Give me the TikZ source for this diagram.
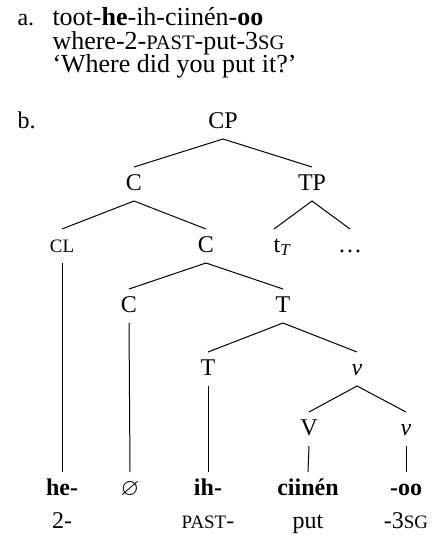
\documentclass[tikz,border=0pt]{standalone}
\usepackage{amssymb}
\usepackage{fontspec}
\setmainfont{Liberation Serif}
\makeatletter
\newcommand{\glsc}[1]{{\fontsize{\dimexpr 79\dimexpr\f@size pt\relax/100\relax}{0pt}\selectfont #1}}
\makeatother

\begin{document}
\begin{tikzpicture}[x=1pt, y=-1pt, line width=1pt,
  every node/.style={font=\fontsize{24pt}{24pt}\selectfont},
  exline/.style={anchor=base west, inner sep=0pt, font=\fontsize{26pt}{26pt}\selectfont},
  cat/.style={anchor=base, inner sep=0pt, text height=22.5pt, text depth=10.5pt},
  gloss/.style={anchor=base, inner sep=0pt}]
\useasboundingbox (0,0) rectangle (433,535);

%% EJEMPLO A
\node[anchor=base west, inner sep=0pt] at (17,26) (labA) {a.};
\node[exline] at (52,26) (exA1) {toot-\textbf{he}-ih-ciinén-\textbf{oo}};
\node[exline] at (52,49.5) (exA2) {where-2-\glsc{PAST}-put-3\glsc{SG}};
\node[exline] at (52,73) (exA3) {‘Where did you put it?’};

%% EJEMPLO B
\node[anchor=base west, inner sep=0pt] at (17,128) (labB) {b.};

% Raiz
\node[cat] at (223,128) (CP) {CP};

% Nivel 1
\node[cat] at (134,190) (C1) {C};
\node[cat] at (312,190) (TP) {TP};

% Nivel 2
\node[cat] at (62,252) (CL) {\glsc{CL}};
\node[cat] at (206,252) (C2) {C};
\node[cat] at (282,252) (tT) {t\textsubscript{\itshape T}};
\node[cat] at (350,252) (Dots) {\dots};

% Nivel 3
\node[cat] at (129,312) (C3) {C};
\node[cat] at (283,312) (T1) {T};

% Nivel 4
\node[cat] at (208,375) (T2) {T};
\node[cat] at (357,375) (v1) {\textit{v}};

% Nivel 5
\node[cat] at (309,435) (V) {V};
\node[cat] at (406,435) (v2) {\textit{v}};

% Morfemas
\node[cat] at (62,495) (He) {\textbf{he-}};
\node[cat] at (130,495) (Null) {$\varnothing$};
\node[cat] at (208,495) (Ih) {\textbf{ih-}};
\node[cat] at (308,495) (Ciinen) {\textbf{ciinén}};
\node[cat] at (406,495) (Oo) {\textbf{-oo}};

% Glosas
\node[gloss] at (62,528) (Gl1) {2-};
\node[gloss] at (208,528) (Gl2) {\glsc{PAST}-};
\node[gloss] at (308,528) (Gl3) {put};
\node[gloss] at (406,528) (Gl4) {-3\glsc{SG}};

% Ramas
\draw (C1.north) -- (CP.south) -- (TP.north);
\draw (CL.north) -- (C1.south) -- (C2.north);
\draw ([xshift=-8pt]tT.north) -- (TP.south) -- (Dots.north);
\draw (C3.north) -- (C2.south) -- (T1.north);
\draw (T2.north) -- (T1.south) -- (v1.north);
\draw (V.north) -- (v1.south) -- (v2.north);

% Lineas verticales
\draw (CL.south) -- (He.north);
\draw (C3.south) -- (Null.north);
\draw (T2.south) -- (Ih.north);
\draw (V.south) -- (Ciinen.north);
\draw (v2.south) -- (Oo.north);

\end{tikzpicture}
\end{document}
